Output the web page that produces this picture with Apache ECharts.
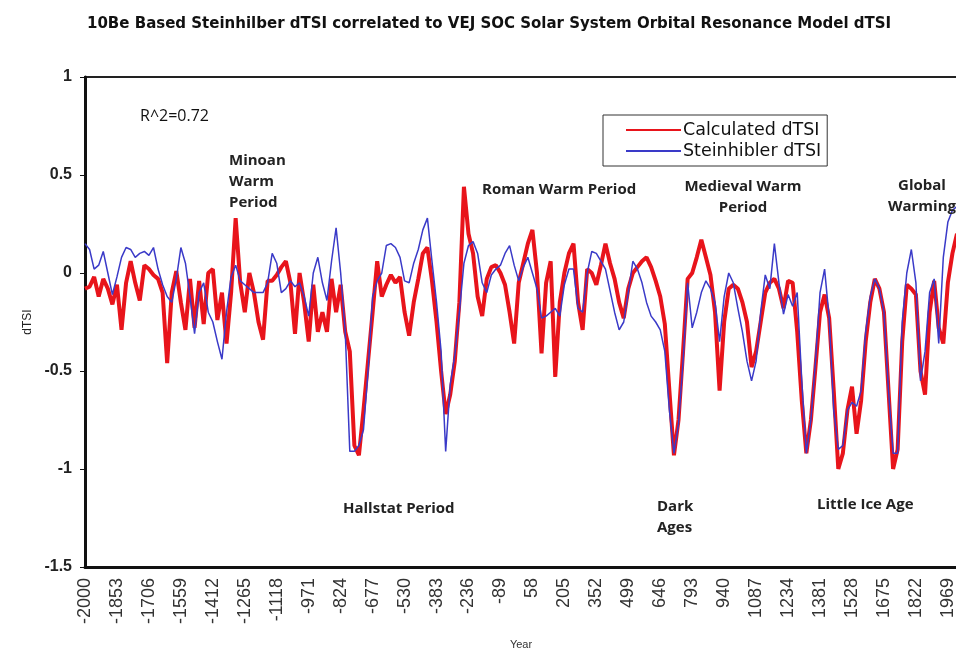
<!DOCTYPE html>
<html>
<head>
<meta charset="utf-8">
<script src="https://cdn.jsdelivr.net/npm/echarts@6/dist/echarts.min.js"></script>
<style>
html,body{margin:0;padding:0;overflow:hidden;background:#fff;}
#c{width:960px;height:655px;}
</style>
</head>
<body>
<div id="c"></div>
<script>
// Year categories: 21-year steps from -2000 (tick labels every 7th = every 147 years)
const startYear = -2000;
const yearStep = 21;
const nPoints = 192;
const years = [];
for (let i = 0; i < nPoints; i++) years.push(String(startYear + yearStep * i));

// Calculated dTSI (red)
const calc = [
-0.08,-0.07,-0.02,-0.12,-0.03,-0.08,-0.16,-0.06,-0.29,-0.05,
0.06,-0.05,-0.14,0.04,0.02,-0.01,-0.03,-0.10,-0.46,-0.10,
0.01,-0.15,-0.29,-0.03,-0.28,-0.04,-0.26,0.00,0.02,-0.24,
-0.10,-0.36,-0.10,0.28,-0.05,-0.20,0.00,-0.10,-0.25,-0.34,
-0.04,-0.04,-0.01,0.03,0.06,-0.05,-0.31,0.00,-0.15,-0.35,
-0.06,-0.30,-0.20,-0.30,-0.03,-0.20,-0.06,-0.30,-0.40,-0.88,
-0.93,-0.70,-0.45,-0.20,0.06,-0.12,-0.06,-0.01,-0.05,-0.02,
-0.20,-0.32,-0.15,-0.03,0.10,0.13,-0.04,-0.25,-0.50,-0.72,
-0.62,-0.45,-0.15,0.44,0.20,0.10,-0.12,-0.22,-0.03,0.03,
0.04,0.00,-0.06,-0.20,-0.36,-0.05,0.05,0.15,0.22,0.00,
-0.41,-0.05,0.06,-0.53,-0.15,0.00,0.10,0.15,-0.15,-0.29,
0.02,0.00,-0.06,0.04,0.15,0.05,-0.03,-0.15,-0.23,-0.08,
0.00,0.03,0.06,0.08,0.03,-0.04,-0.12,-0.26,-0.60,-0.93,
-0.75,-0.40,-0.03,0.00,0.08,0.17,0.08,-0.01,-0.20,-0.60,
-0.25,-0.08,-0.06,-0.08,-0.15,-0.25,-0.48,-0.40,-0.25,-0.10,
-0.05,-0.03,-0.08,-0.18,-0.04,-0.05,-0.30,-0.65,-0.92,-0.75,
-0.48,-0.20,-0.11,-0.23,-0.60,-1.00,-0.92,-0.70,-0.58,-0.82,
-0.65,-0.35,-0.15,-0.03,-0.08,-0.20,-0.60,-1.00,-0.90,-0.35,
-0.06,-0.08,-0.11,-0.50,-0.62,-0.20,-0.04,-0.28,-0.36,-0.05,
0.10,0.20
];

// Steinhilber dTSI (blue)
const stein = [
0.15,0.12,0.02,0.04,0.11,0.00,-0.11,-0.02,0.08,0.13,
0.12,0.08,0.10,0.11,0.09,0.13,0.02,-0.06,-0.12,-0.15,
-0.03,0.13,0.05,-0.12,-0.31,-0.10,-0.05,-0.20,-0.25,-0.35,
-0.44,-0.20,-0.02,0.04,-0.04,-0.06,-0.08,-0.10,-0.10,-0.10,
-0.05,0.10,0.05,-0.10,-0.08,-0.04,-0.07,-0.05,-0.12,-0.22,
0.00,0.08,-0.05,-0.14,0.06,0.23,0.00,-0.30,-0.91,-0.91,
-0.88,-0.80,-0.50,-0.12,-0.04,0.00,0.14,0.15,0.13,0.08,
-0.04,-0.05,0.05,0.12,0.22,0.28,0.06,-0.15,-0.40,-0.91,
-0.57,-0.42,-0.20,0.05,0.14,0.16,0.10,-0.05,-0.10,-0.01,
0.02,0.04,0.10,0.14,0.04,-0.04,0.03,0.08,0.00,-0.08,
-0.23,-0.22,-0.20,-0.18,-0.22,-0.06,0.02,0.02,-0.18,-0.20,
0.00,0.11,0.10,0.06,0.02,-0.09,-0.20,-0.29,-0.25,-0.10,
0.06,0.02,-0.05,-0.15,-0.22,-0.25,-0.29,-0.40,-0.70,-0.92,
-0.77,-0.45,-0.05,-0.28,-0.20,-0.10,-0.04,-0.08,-0.15,-0.35,
-0.12,0.00,-0.05,-0.18,-0.30,-0.45,-0.55,-0.45,-0.20,-0.01,
-0.08,0.15,-0.05,-0.21,-0.11,-0.17,-0.10,-0.55,-0.92,-0.75,
-0.45,-0.10,0.02,-0.23,-0.70,-0.90,-0.88,-0.70,-0.66,-0.68,
-0.60,-0.30,-0.12,-0.03,-0.08,-0.20,-0.60,-0.92,-0.92,-0.25,
0.00,0.12,-0.05,-0.55,-0.40,-0.10,-0.03,-0.36,0.08,0.26,
0.32,0.34
];

const seriesNames = ['Calculated dTSI', 'Steinhibler dTSI'];
const titleText = '10Be Based Steinhilber dTSI correlated to VEJ SOC Solar System Orbital Resonance Model dTSI';

const annFont = 'bold 15px "Open Sans", sans-serif';
function ann(text, x, y, align) {
  return { type: 'text', x: x, y: y, z: 10,
    style: { text: text, font: annFont, fill: '#222', textAlign: align || 'left', textVerticalAlign: 'middle', lineHeight: 21 } };
}

const chart = echarts.init(document.getElementById('c'));
chart.setOption({
  animation: false,
  backgroundColor: '#ffffff',
  title: {
    text: titleText,
    left: 82, top: 12,
    textStyle: { fontFamily: 'DejaVu Sans', fontWeight: 'bold', fontSize: 15, color: '#111' }
  },
  grid: { left: 85, top: 77, width: 872, height: 495, show: true, borderColor: '#222', borderWidth: 2, backgroundColor: '#fff' },
  legend: {
    orient: 'vertical', left: 603, top: 115,
    itemWidth: 55, itemHeight: 14, itemGap: 3,
    padding: [6, 6, 6, 22],
    borderColor: '#333', borderWidth: 1, backgroundColor: '#fff',
    itemStyle: { opacity: 0 },
    textStyle: { fontFamily: 'DejaVu Sans', fontSize: 17.5, color: '#111', padding: [0, 0, 0, -3] },
    data: seriesNames
  },
  xAxis: {
    type: 'category', data: years, boundaryGap: false,
    axisLine: { onZero: false, lineStyle: { color: '#111', width: 3 } },
    axisTick: { show: false },
    axisLabel: { interval: 6, rotate: 90, margin: 11, fontFamily: 'Liberation Sans', fontSize: 18, color: '#333' },
    splitLine: { show: false },
    name: 'Year', nameLocation: 'middle', nameGap: 72,
    nameTextStyle: { fontFamily: 'Liberation Sans', fontSize: 11, color: '#333' }
  },
  yAxis: {
    type: 'value', min: -1.5, max: 1, interval: 0.5,
    axisLine: { show: true, lineStyle: { color: '#111', width: 3 } },
    axisTick: { show: true, length: 5, lineStyle: { color: '#111', width: 1 } },
    axisLabel: { margin: 13, fontFamily: 'Liberation Sans', fontWeight: 'bold', fontSize: 16, color: '#222' },
    splitLine: { show: false },
    name: 'dTSI', nameLocation: 'middle', nameGap: 47,
    nameTextStyle: { fontFamily: 'Liberation Sans', fontSize: 12, color: '#222' }
  },
  series: [
    { name: seriesNames[0], type: 'line', data: calc, symbol: 'none', z: 2,
      lineStyle: { color: '#e8141b', width: 4 }, itemStyle: { color: '#e8141b' } },
    { name: seriesNames[1], type: 'line', data: stein, symbol: 'none', z: 3,
      lineStyle: { color: '#3a3ac8', width: 1.5 }, itemStyle: { color: '#3a3ac8' } }
  ],
  graphic: [
    { type: 'text', x: 140, y: 116, z: 10, style: { text: 'R^2=0.72', font: '16px "Open Sans", sans-serif', fill: '#111', textVerticalAlign: 'middle' } },
    ann('Minoan\nWarm\nPeriod', 229, 182),
    ann('Roman Warm Period', 482, 190),
    ann('Medieval Warm\nPeriod', 743, 197, 'center'),
    ann('Global\nWarming', 922, 196, 'center'),
    ann('Hallstat Period', 343, 509),
    ann('Dark\nAges', 657, 517),
    ann('Little Ice Age', 817, 505)
  ]
});
</script>
</body>
</html>
